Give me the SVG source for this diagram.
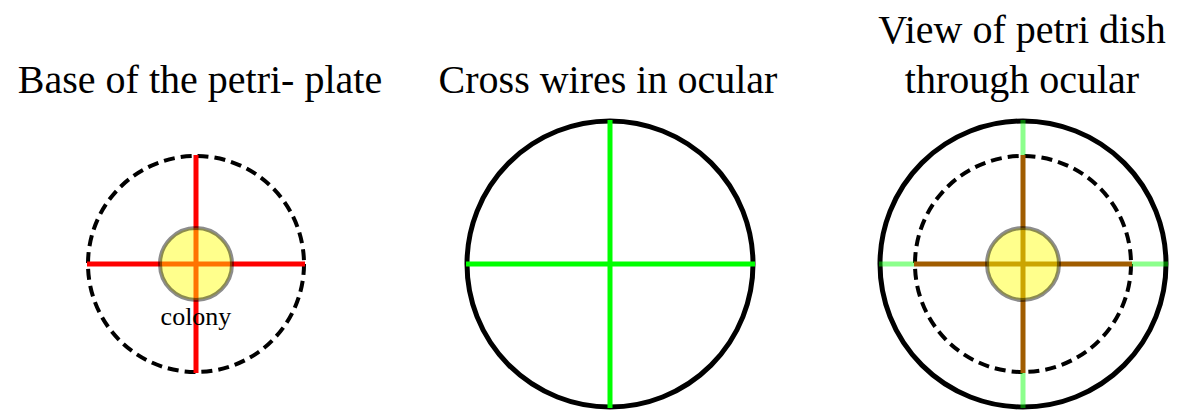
<svg xmlns="http://www.w3.org/2000/svg" width="1177" height="412" viewBox="0 0 1177 412">
<style>
text{font-family:'Liberation Serif','Times New Roman',serif;fill:#000;text-anchor:middle}
.title{font-size:40px}
.lbl{font-size:26px}
.dash{fill:none;stroke:#000;stroke-width:4;stroke-dasharray:11 6}
.ring{fill:none;stroke:#000;stroke-width:5}
.colony{fill:#ffff00;fill-opacity:0.45;stroke:#000;stroke-opacity:0.45;stroke-width:4}
.red{stroke:#ff0000;stroke-width:5}
.green{stroke:#00ff00;stroke-width:5}
.lgreen{stroke:#00ff00;stroke-opacity:0.45;stroke-width:5}
.brown{stroke:#a05c00;stroke-width:5}
</style>
<rect width="1177" height="412" fill="#fff"/>
<g id="titles">
<text class="title" x="200" y="93">Base of the petri- plate</text>
<text class="title" x="608" y="93">Cross wires in ocular</text>
<text class="title" x="1022" y="43">View of petri dish</text>
<text class="title" x="1022" y="93">through ocular</text>
</g>
<g id="base-plate">
<circle class="dash" cx="196" cy="264" r="108"/>
<g id="base-cross">
<line class="red" x1="196" y1="155" x2="196" y2="373"/>
<line class="red" x1="87" y1="264" x2="305" y2="264"/>
</g>
<circle class="colony" cx="196" cy="264" r="36"/>
<text class="lbl" x="196" y="325">colony</text>
</g>
<g id="ocular">
<circle class="ring" cx="610" cy="264" r="143"/>
<line class="green" x1="610" y1="120" x2="610" y2="408"/>
<line class="green" x1="466" y1="264" x2="755" y2="264"/>
</g>
<g id="view">
<circle class="ring" cx="1023" cy="264" r="143"/>
<circle class="dash" cx="1023" cy="264" r="108"/>
<line class="brown" x1="1023" y1="155" x2="1023" y2="373"/>
<line class="brown" x1="914" y1="264" x2="1132" y2="264"/>
<line class="lgreen" x1="1023" y1="120" x2="1023" y2="155"/>
<line class="lgreen" x1="1023" y1="373" x2="1023" y2="408"/>
<line class="lgreen" x1="879" y1="264" x2="914" y2="264"/>
<line class="lgreen" x1="1132" y1="264" x2="1168" y2="264"/>
<circle class="colony" cx="1023" cy="264" r="36"/>
</g>
</svg>
